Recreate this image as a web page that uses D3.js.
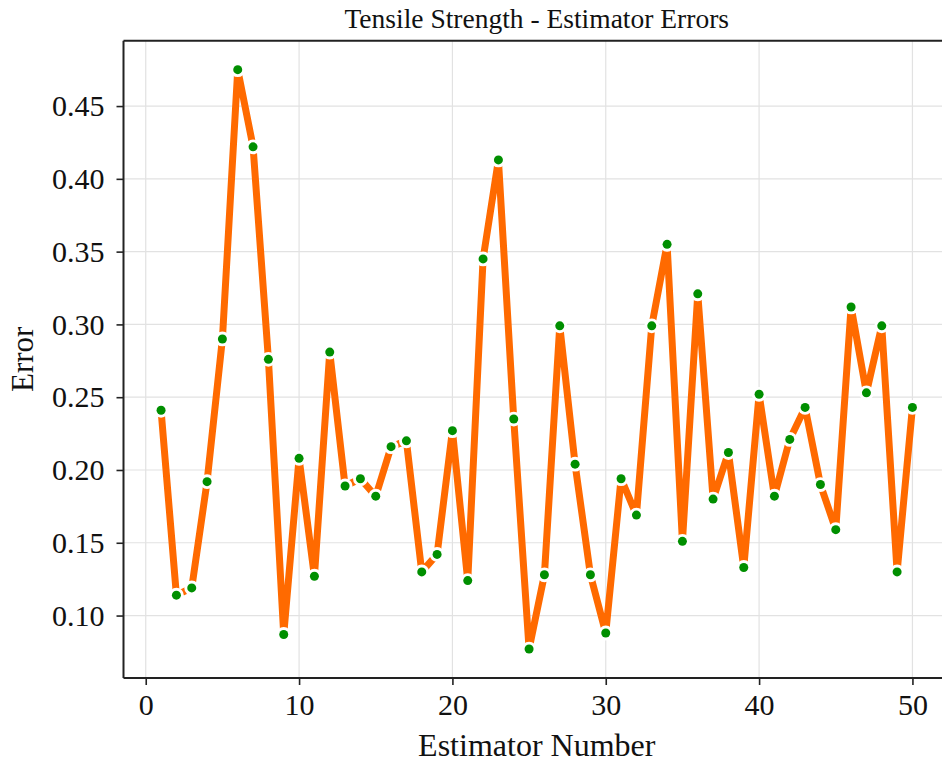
<!DOCTYPE html>
<html>
<head>
<meta charset="utf-8">
<script src="https://cdn.jsdelivr.net/npm/d3@7"></script>
<style>
  html, body { margin: 0; padding: 0; background: #fff; }
  svg { display: block; }
  text { font-family: "Liberation Serif", "Times New Roman", serif; fill: #111; }
</style>
</head>
<body>
<svg id="chart" width="942" height="763"></svg>
<script>
// Estimator error for each of the 50 estimators
const estimators = d3.range(1, 51);
const errors = [
  0.241, 0.114, 0.119, 0.192, 0.290, 0.475, 0.422, 0.276, 0.087, 0.208,
  0.127, 0.281, 0.189, 0.194, 0.182, 0.216, 0.220, 0.130, 0.142, 0.227,
  0.124, 0.345, 0.413, 0.235, 0.077, 0.128, 0.299, 0.204, 0.128, 0.088,
  0.194, 0.169, 0.299, 0.355, 0.151, 0.321, 0.180, 0.212, 0.133, 0.252,
  0.182, 0.221, 0.243, 0.190, 0.159, 0.312, 0.253, 0.299, 0.130, 0.243
];
const xTicks = [0, 10, 20, 30, 40, 50];
const yTicks = [0.10, 0.15, 0.20, 0.25, 0.30, 0.35, 0.40, 0.45];

const titleText = "Tensile Strength - Estimator Errors";
const xLabel = "Estimator Number";
const yLabel = "Error";

const svg = d3.select("#chart");
const W = 942, H = 763;
svg.append("rect").attr("width", W).attr("height", H).attr("fill", "#fff");

// plot box (the right edge runs past the canvas)
const boxL = 123.5, boxR = 950, boxT = 40.7, boxB = 678;

// 5% padding around the data on both axes
const xMin = d3.min(estimators), xMax = d3.max(estimators);
const xPad = (xMax - xMin) * 0.05;
const yMin = d3.min(errors), yMax = d3.max(errors);
const yPad = (yMax - yMin) * 0.05;

const x = d3.scaleLinear().domain([xMin - xPad, xMax + xPad]).range([boxL, boxR]);
const y = d3.scaleLinear().domain([yMin - yPad, yMax + yPad]).range([boxB, boxT]);

// grid
const grid = svg.append("g").attr("stroke", "#e2e2e2").attr("stroke-width", 1.2);
grid.selectAll(".gx").data(xTicks).join("line")
  .attr("x1", d => x(d)).attr("x2", d => x(d))
  .attr("y1", boxT).attr("y2", boxB);
grid.selectAll(".gy").data(yTicks).join("line")
  .attr("x1", boxL).attr("x2", boxR)
  .attr("y1", d => y(d)).attr("y2", d => y(d));

// clip to plot box
svg.append("clipPath").attr("id", "plotclip")
  .append("rect").attr("x", boxL).attr("y", boxT)
  .attr("width", boxR - boxL).attr("height", boxB - boxT);

const plot = svg.append("g").attr("clip-path", "url(#plotclip)");

const pts = estimators.map((e, i) => ({ e, v: errors[i] }));

const line = d3.line().x(d => x(d.e)).y(d => y(d.v));
plot.append("path")
  .datum(pts)
  .attr("d", line)
  .attr("fill", "none")
  .attr("stroke", "#ff6a00")
  .attr("stroke-width", 7)
  .attr("stroke-linejoin", "round")
  .attr("stroke-linecap", "butt");

// markers: white halo under a green dot
plot.selectAll(".halo").data(pts).join("circle")
  .attr("cx", d => x(d.e)).attr("cy", d => y(d.v))
  .attr("r", 7.4).attr("fill", "#fff");
plot.selectAll(".dot").data(pts).join("circle")
  .attr("cx", d => x(d.e)).attr("cy", d => y(d.v))
  .attr("r", 4.5).attr("fill", "#008f00");

// axes
const xAxis = d3.axisBottom(x).tickValues(xTicks).tickFormat(d3.format("d"))
  .tickSize(7).tickPadding(9);
const yAxis = d3.axisLeft(y).tickValues(yTicks).tickFormat(d3.format(".2f"))
  .tickSize(7).tickPadding(12);

const gx = svg.append("g").attr("transform", `translate(0,${boxB})`).call(xAxis);
const gy = svg.append("g").attr("transform", `translate(${boxL},0)`).call(yAxis);
[gx, gy].forEach(g => {
  g.select(".domain").remove();
  g.selectAll(".tick line").attr("stroke", "#222").attr("stroke-width", 1.6);
  g.selectAll(".tick text").attr("font-size", 30).attr("fill", "#111")
    .style("font-family", "'Liberation Serif', 'Times New Roman', serif");
});

// frame
const frame = svg.append("g").attr("stroke", "#222").attr("stroke-width", 2).attr("fill", "none");
frame.append("line").attr("x1", boxL).attr("x2", boxL).attr("y1", boxT).attr("y2", boxB);
frame.append("line").attr("x1", boxL).attr("x2", boxR).attr("y1", boxB).attr("y2", boxB);
frame.append("line").attr("x1", boxL).attr("x2", boxR).attr("y1", boxT).attr("y2", boxT);
frame.append("line").attr("x1", boxR).attr("x2", boxR).attr("y1", boxT).attr("y2", boxB);

// title and axis labels
svg.append("text")
  .attr("x", (boxL + boxR) / 2).attr("y", 28)
  .attr("text-anchor", "middle").attr("font-size", 27.5)
  .text(titleText);

svg.append("text")
  .attr("x", (boxL + boxR) / 2).attr("y", 756)
  .attr("text-anchor", "middle").attr("font-size", 32)
  .text(xLabel);

svg.append("text")
  .attr("transform", `translate(33,${(boxT + boxB) / 2}) rotate(-90)`)
  .attr("text-anchor", "middle").attr("font-size", 31)
  .text(yLabel);
</script>
</body>
</html>
